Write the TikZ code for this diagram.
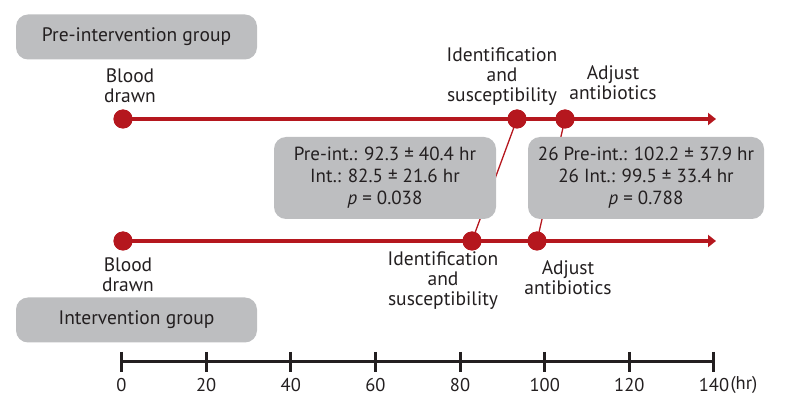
\documentclass[tikz,border=0pt]{standalone}
\usepackage{fontspec}
\setmainfont{PT Sans}
\usetikzlibrary{arrows.meta,calc}
\definecolor{tred}{HTML}{B5171E}
\definecolor{tgray}{HTML}{BDBEC0}
\definecolor{tblack}{HTML}{231F20}
\begin{document}
\begin{tikzpicture}[x=1pt,y=-1pt,
  groupbox/.style={fill=tgray,rounded corners=12pt,minimum width=241pt,minimum height=45pt,inner sep=0pt,font=\fontsize{19.5}{20}\selectfont,text=tblack},
  statbox/.style={fill=tgray,rounded corners=12pt,inner sep=0pt,font=\fontsize{19}{22}\selectfont,text=tblack,align=center},
  lbl/.style={font=\fontsize{19.5}{20}\selectfont,text=tblack,align=center,inner sep=0pt},
  dot/.style={circle,fill=tred,minimum size=19pt,inner sep=0pt},
  tline/.style={draw=tred,line width=3.5pt,-{Triangle[length=8pt,width=12pt]}},
  conn/.style={draw=tred,line width=1.3pt},
  axis/.style={draw=tblack,line width=3pt},
  ticklbl/.style={font=\fontsize{18.5}{20}\selectfont,text=tblack,inner sep=0pt}
]
\useasboundingbox (0,0) rectangle (788,414);

% group boxes
\node[groupbox] (pre) at (136.5,37) {Pre-intervention group};
\node[groupbox] (int) at (136.5,320) {Intervention group};

% coordinates for line ends
\coordinate (preEnd) at (716,119);
\coordinate (intEnd) at (716,241);

% dots
\node[dot] (pa) at (123,119) {};
\node[dot] (pb) at (517,119) {};
\node[dot] (pc) at (565,119) {};
\node[dot] (ia) at (123,241) {};
\node[dot] (ib) at (472,241) {};
\node[dot] (ic) at (537,241) {};

% connectors (behind boxes)
\draw[conn] (pb.center) -- (ib.center);
\draw[conn] (pc.center) -- (ic.center);

% timelines
\draw[tline] (pa.center) -- (preEnd);
\draw[tline] (ia.center) -- (intEnd);
\node[dot] at (pa) {};
\node[dot] at (pb) {};
\node[dot] at (pc) {};
\node[dot] at (ia) {};
\node[dot] at (ib) {};
\node[dot] at (ic) {};

% stat boxes
\node[statbox,minimum width=222pt,minimum height=82pt] (s1) at (385,178) {Pre-int.: 92.3 ± 40.4 hr\\Int.: 82.5 ± 21.6 hr\\\textit{p} = 0.038};
\node[statbox,minimum width=236pt,minimum height=82pt] (s2) at (646,178) {26 Pre-int.: 102.2 ± 37.9 hr\\26 Int.: 99.5 ± 33.4 hr\\\textit{p} = 0.788};

% labels
\node[lbl] (l1) at (130,86) {Blood\\drawn};
\node[lbl] (l2) at (502,77) {Identification\\and\\susceptibility};
\node[lbl] (l3) at (613,83) {Adjust\\antibiotics};
\node[lbl] (l4) at (128,275) {Blood\\drawn};
\node[lbl] (l5) at (443,281) {Identification\\and\\susceptibility};
\node[lbl] (l6) at (568,278) {Adjust\\antibiotics};

% axis
\coordinate (ax0) at (121.5,362);
\coordinate (ax1) at (714,362);
\draw[axis] (ax0) -- (ax1);
\foreach \t [count=\i from 0] in {0,20,...,140} {
  \coordinate (tk\i) at ({121.5+\t*4.2321},362);
  \draw[axis] ($(tk\i)+(0,-10)$) -- ($(tk\i)+(0,10)$);
  \node[ticklbl] (tl\i) at ($(tk\i)+(0,23)$) {\t};
}
\node[ticklbl,anchor=west] (hr) at ($(tl7.east)+(1,0)$) {(hr)};
\end{tikzpicture}
\end{document}
